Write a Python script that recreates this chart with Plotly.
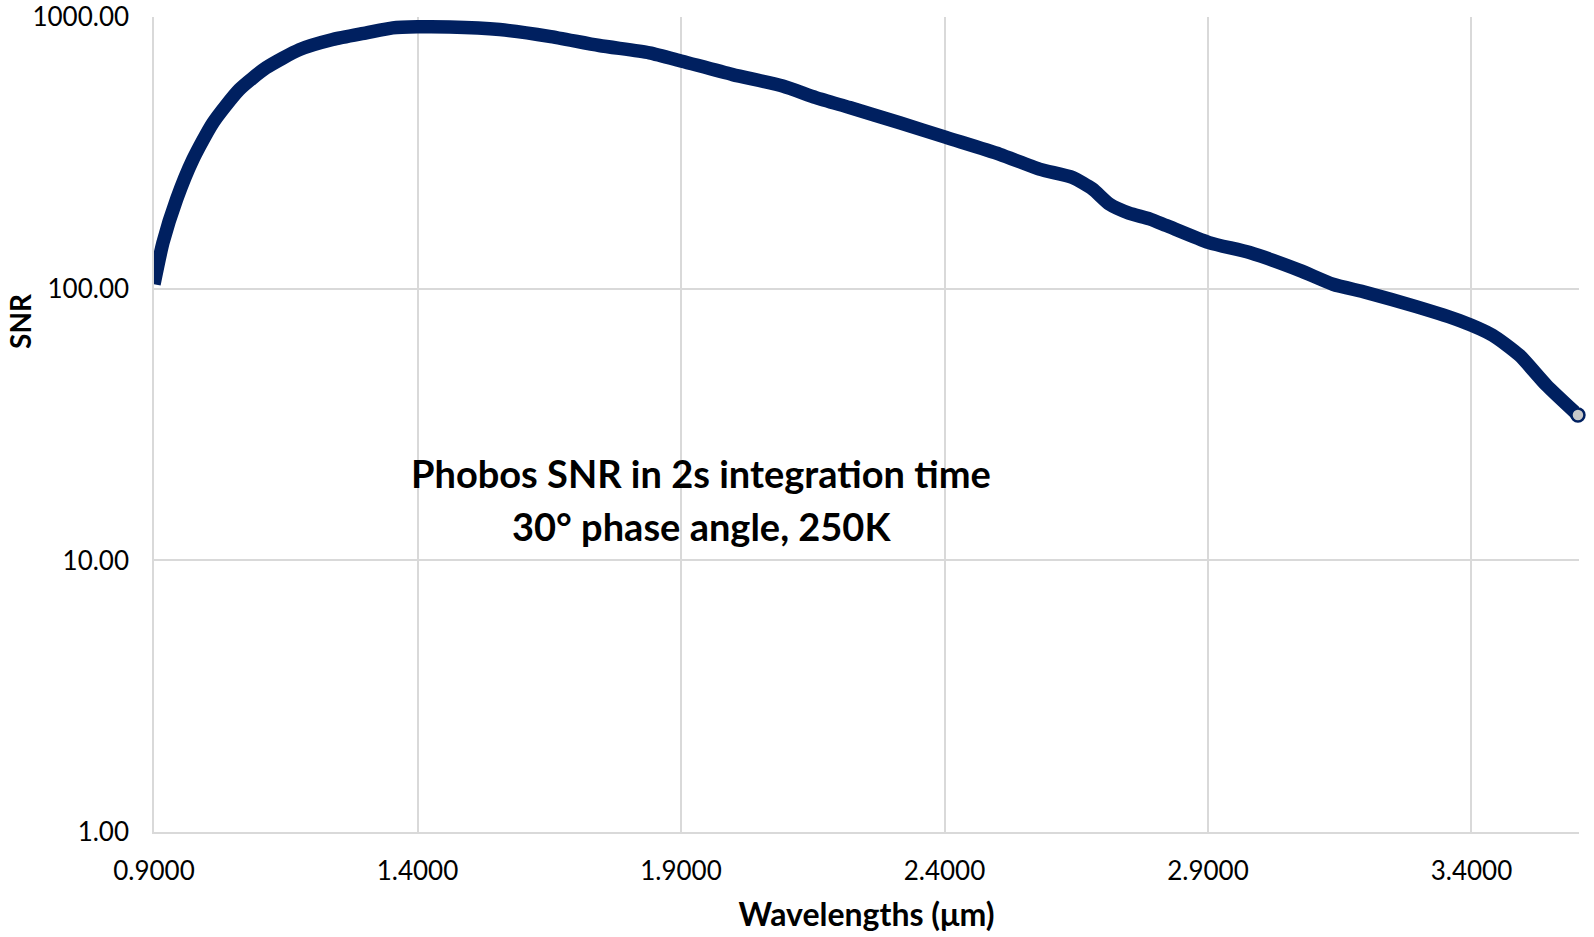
import plotly.graph_objects as go

wavelength = [0.900, 0.917, 0.943, 0.974, 1.012, 1.062, 1.113, 1.176, 1.239, 1.303,
              1.353, 1.400, 1.461, 1.556, 1.650, 1.745, 1.840, 1.902, 1.998, 2.093,
              2.156, 2.220, 2.315, 2.403, 2.505, 2.580, 2.643, 2.681, 2.713, 2.750,
              2.789, 2.821, 2.902, 2.979, 3.074, 3.137, 3.200, 3.295, 3.377, 3.440,
              3.491, 3.542, 3.602]
snr = [104, 148, 214, 300, 409, 542, 652, 760, 828, 876,
       914, 922, 921, 901, 851, 787, 740, 689, 615, 558,
       506, 465, 409, 361, 313, 276, 257, 233, 205, 190,
       181, 171, 148, 136, 117, 104, 97, 86, 76.5, 67.5,
       56.9, 44.2, 34.3]

x_ticks = [0.9, 1.4, 1.9, 2.4, 2.9, 3.4]
x_ticktext = ["0.9000", "1.4000", "1.9000", "2.4000", "2.9000", "3.4000"]
y_ticks = [1, 10, 100, 1000]
y_ticktext = ["1.00", "10.00", "100.00", "1000.00"]

navy = "#002060"
grid = "#d9d9d9"
font_family = "Lato, 'Open Sans', sans-serif"

fig = go.Figure()

fig.add_trace(go.Scatter(x=wavelength, y=snr, mode="lines",
                         line=dict(color=navy, width=13.5, shape="spline", smoothing=0.6),
                         showlegend=False, hoverinfo="x+y", cliponaxis=False))
# last marker is visible at the end of the band
fig.add_trace(go.Scatter(x=wavelength[-1:], y=snr[-1:], mode="markers",
                         marker=dict(size=13, color="#c8c8c8", line=dict(color=navy, width=2.5)),
                         showlegend=False, hoverinfo="skip", cliponaxis=False))

fig.add_annotation(text="<b>Phobos SNR in 2s integration time</b>", xref="paper", yref="paper",
                   x=0.384, y=0.4405, showarrow=False, xanchor="center", yanchor="middle",
                   font=dict(family=font_family, size=38, color="#000000"))
fig.add_annotation(text="<b>30° phase angle, 250K</b>", xref="paper", yref="paper",
                   x=0.384, y=0.376, showarrow=False, xanchor="center", yanchor="middle",
                   font=dict(family=font_family, size=38, color="#000000"))
# y title sits above the middle in the original
fig.add_annotation(text="<b>SNR</b>", xref="paper", yref="paper", textangle=-90,
                   x=-0.1074, y=0.627, showarrow=False, xanchor="left", yanchor="middle",
                   font=dict(family=font_family, size=28, color="#000000"))

fig.update_layout(width=1594, height=937,
                  paper_bgcolor="white", plot_bgcolor="white",
                  font=dict(family=font_family, size=26, color="#000000"),
                  margin=dict(l=154, r=15, t=17, b=105))

fig.update_xaxes(range=[0.9, 3.604], tickvals=x_ticks, ticktext=x_ticktext,
                 showgrid=True, gridcolor=grid, gridwidth=1.5, automargin=False,
                 showline=True, linecolor=grid, linewidth=1.5, zeroline=False,
                 ticks="", ticklabelstandoff=15, ticklabeloverflow="allow",
                 title=dict(text="<b>Wavelengths (μm)</b>", font=dict(size=32), standoff=19))
fig.update_yaxes(type="log", range=[0, 3.001], tickvals=y_ticks, ticktext=y_ticktext,
                 showgrid=True, gridcolor=grid, gridwidth=1.5, automargin=False,
                 showline=True, linecolor=grid, linewidth=1.5, zeroline=False,
                 ticks="", ticklabelstandoff=18, ticklabeloverflow="allow")

# drop the default 8px page margin so the figure fills the window
fig.write_html("out.html", config={"displayModeBar": False},
               post_script="document.body.style.margin='0';")
